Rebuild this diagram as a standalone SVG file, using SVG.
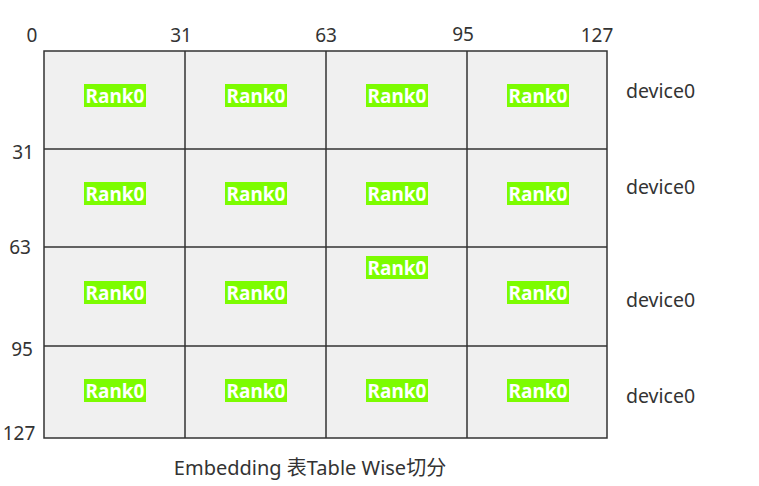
<svg xmlns="http://www.w3.org/2000/svg" width="759" height="486" viewBox="0 0 759 486">
<style>
.ax{font-family:"Noto Sans","Liberation Sans",sans-serif;font-size:19px;fill:#333;text-anchor:middle}
.dev{font-family:"Noto Sans","Liberation Sans",sans-serif;font-size:19.5px;fill:#333}
.cap{font-family:"Noto Sans","Noto Sans CJK SC",sans-serif;font-size:20px;fill:#333;text-anchor:middle}
.rk rect{fill:#7cfc00}
.rk text{font-family:"Noto Sans","Liberation Sans",sans-serif;font-size:19px;font-weight:bold;fill:#fff;text-anchor:middle}
.ln{stroke:#333;stroke-width:1.5;fill:none}
</style>
<rect x="0" y="0" width="759" height="486" fill="#fff"/>
<g id="grid">
<rect x="44" y="51" width="563" height="387" fill="#f0f0f0"/>
<g class="ln">
<line x1="185" y1="51" x2="185" y2="438"/>
<line x1="326" y1="51" x2="326" y2="438"/>
<line x1="467" y1="51" x2="467" y2="438"/>
<line x1="44" y1="149" x2="607" y2="149"/>
<line x1="44" y1="247" x2="607" y2="247"/>
<line x1="44" y1="346" x2="607" y2="346"/>
<rect x="44" y="51" width="563" height="387"/>
</g>
</g>
<g id="axis">
<text class="ax" x="32" y="42">0</text>
<text class="ax" x="181" y="42">31</text>
<text class="ax" x="326" y="42">63</text>
<text class="ax" x="463" y="41">95</text>
<text class="ax" x="597" y="42">127</text>
<text class="ax" x="23" y="159">31</text>
<text class="ax" x="20" y="254">63</text>
<text class="ax" x="22" y="356">95</text>
<text class="ax" x="19" y="440">127</text>
</g>
<g id="r0c0" class="rk"><rect x="84" y="84" width="62" height="23"/><text x="115" y="102.5">Rank0</text></g>
<g id="r0c1" class="rk"><rect x="225" y="84" width="62" height="23"/><text x="256" y="102.5">Rank0</text></g>
<g id="r0c2" class="rk"><rect x="366" y="84" width="62" height="23"/><text x="397" y="102.5">Rank0</text></g>
<g id="r0c3" class="rk"><rect x="507" y="84" width="62" height="23"/><text x="538" y="102.5">Rank0</text></g>
<g id="r1c0" class="rk"><rect x="84" y="182" width="62" height="23"/><text x="115" y="200.5">Rank0</text></g>
<g id="r1c1" class="rk"><rect x="225" y="182" width="62" height="23"/><text x="256" y="200.5">Rank0</text></g>
<g id="r1c2" class="rk"><rect x="366" y="182" width="62" height="23"/><text x="397" y="200.5">Rank0</text></g>
<g id="r1c3" class="rk"><rect x="507" y="182" width="62" height="23"/><text x="538" y="200.5">Rank0</text></g>
<g id="r2c0" class="rk"><rect x="84" y="281" width="62" height="23"/><text x="115" y="299.5">Rank0</text></g>
<g id="r2c1" class="rk"><rect x="225" y="281" width="62" height="23"/><text x="256" y="299.5">Rank0</text></g>
<g id="r2c2" class="rk"><rect x="366" y="256" width="62" height="23"/><text x="397" y="274.5">Rank0</text></g>
<g id="r2c3" class="rk"><rect x="507" y="281" width="62" height="23"/><text x="538" y="299.5">Rank0</text></g>
<g id="r3c0" class="rk"><rect x="84" y="379" width="62" height="23"/><text x="115" y="397.5">Rank0</text></g>
<g id="r3c1" class="rk"><rect x="225" y="379" width="62" height="23"/><text x="256" y="397.5">Rank0</text></g>
<g id="r3c2" class="rk"><rect x="366" y="379" width="62" height="23"/><text x="397" y="397.5">Rank0</text></g>
<g id="r3c3" class="rk"><rect x="507" y="379" width="62" height="23"/><text x="538" y="397.5">Rank0</text></g>
<g id="devices">
<text class="dev" x="626" y="98">device0</text>
<text class="dev" x="626" y="194">device0</text>
<text class="dev" x="626" y="307">device0</text>
<text class="dev" x="626" y="403">device0</text>
</g>
<text class="cap" x="310" y="475">Embedding 表Table Wise切分</text>
</svg>
